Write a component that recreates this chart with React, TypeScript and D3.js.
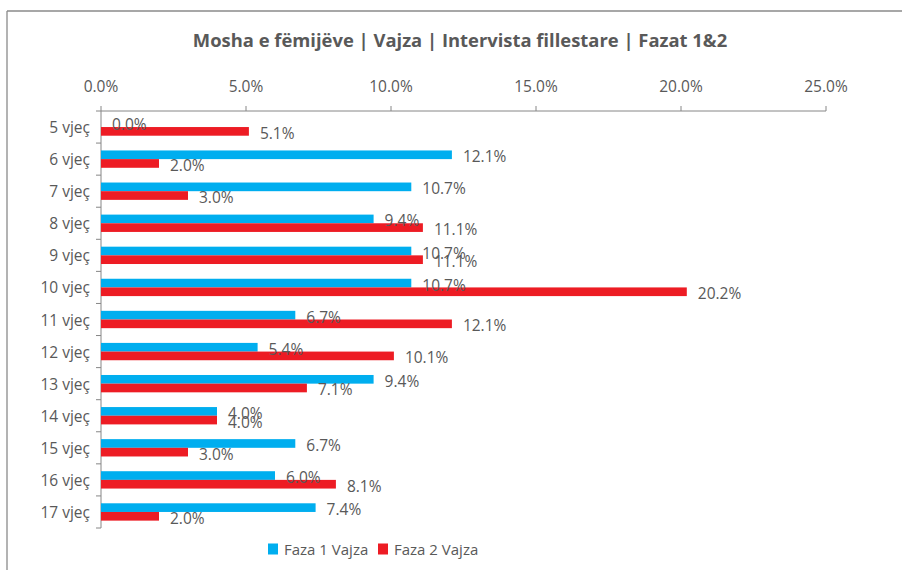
import React from "react";
import * as d3 from "d3";

const categories = ["5 vjeç","6 vjeç","7 vjeç","8 vjeç","9 vjeç","10 vjeç","11 vjeç","12 vjeç","13 vjeç","14 vjeç","15 vjeç","16 vjeç","17 vjeç"];
const faza1 = [0.0, 12.1, 10.7, 9.4, 10.7, 10.7, 6.7, 5.4, 9.4, 4.0, 6.7, 6.0, 7.4];
const faza2 = [5.1, 2.0, 3.0, 11.1, 11.1, 20.2, 12.1, 10.1, 7.1, 4.0, 3.0, 8.1, 2.0];
const seriesNames = ["Faza 1 Vajza", "Faza 2 Vajza"];
const seriesColors = ["#00AEEF", "#ED1C24"];
const xTicks = [0, 5, 10, 15, 20, 25];
const title = "Mosha e fëmijëve | Vajza | Intervista fillestare | Fazat 1&2";

const FONT = "'Open Sans', 'Noto Sans', sans-serif";
const TEXT = "#595959";
const AXIS = "#868686";

export default function App() {
  const W = 902, H = 570;
  const x = d3.scaleLinear().domain([0, 25]).range([101, 826]);
  const y = d3.scaleBand<string>().domain(categories).range([111, 528]).padding(0);
  const sub = d3.scaleBand<string>().domain(["s0", "s1"]).range([0, y.bandwidth()]).paddingInner(0).paddingOuter(0.85);
  const fmt = (v: number) => v.toFixed(1) + "%";
  const series = [faza1, faza2];
  const boundaries = d3.range(categories.length + 1).map((i) => 111 + i * y.step());
  const legendX = [268, 378];

  return (
    <div style={{ position: "absolute", left: 0, top: 0 }}>
      <svg width={W} height={H} style={{ display: "block", background: "#fff" }} fontFamily={FONT}>
        <line x1={7} y1={11} x2={W} y2={11} stroke="#8a8a8a" strokeWidth={1.3} />
        <line x1={7} y1={11} x2={7} y2={H} stroke="#8a8a8a" strokeWidth={1.3} />
        <text x={460} y={47} textAnchor="middle" fontSize={18.4} fontWeight={700} fill={TEXT}>{title}</text>

        {/* top axis */}
        <line x1={x(0)} y1={111} x2={x(25)} y2={111} stroke={AXIS} strokeWidth={1} />
        {xTicks.map((t) => (
          <g key={t}>
            <line x1={x(t)} x2={x(t)} y1={106} y2={111} stroke={AXIS} />
            <text x={x(t)} y={85.5} textAnchor="middle" dominantBaseline="central" fontSize={15.5} fill={TEXT}>{fmt(t)}</text>
          </g>
        ))}

        {/* y axis */}
        <line x1={x(0)} y1={111} x2={x(0)} y2={528} stroke={AXIS} />
        {boundaries.map((b, i) => (
          <line key={i} x1={96} x2={x(0)} y1={b} y2={b} stroke={AXIS} />
        ))}
        {categories.map((c) => (
          <text key={c} x={90} y={(y(c) as number) + y.bandwidth() / 2} textAnchor="end" dominantBaseline="central" fontSize={15.5} fill={TEXT}>{c}</text>
        ))}

        {/* bars */}
        {series.map((vals, si) => (
          <g key={si}>
            {vals.map((v, i) => {
              const by = (y(categories[i]) as number) + (sub("s" + si) as number);
              return (
                <rect key={i} x={x(0)} y={by} width={x(v) - x(0)} height={sub.bandwidth()} fill={seriesColors[si]} />
              );
            })}
          </g>
        ))}
        {series.map((vals, si) => (
          <g key={"l" + si}>
            {vals.map((v, i) => {
              const by = (y(categories[i]) as number) + (sub("s" + si) as number);
              return (
                <text key={i} x={x(v) + 11} y={by + sub.bandwidth() / 2 + 1.5} dominantBaseline="central" fontSize={15.5} fill={TEXT}>{fmt(v)}</text>
              );
            })}
          </g>
        ))}

        {/* legend */}
        {seriesNames.map((n, i) => (
          <g key={n}>
            <rect x={legendX[i]} y={543.5} width={10} height={11} fill={seriesColors[i]} />
            <text x={legendX[i] + 16} y={549} dominantBaseline="central" fontSize={15} fill={TEXT}>{n}</text>
          </g>
        ))}
      </svg>
    </div>
  );
}
